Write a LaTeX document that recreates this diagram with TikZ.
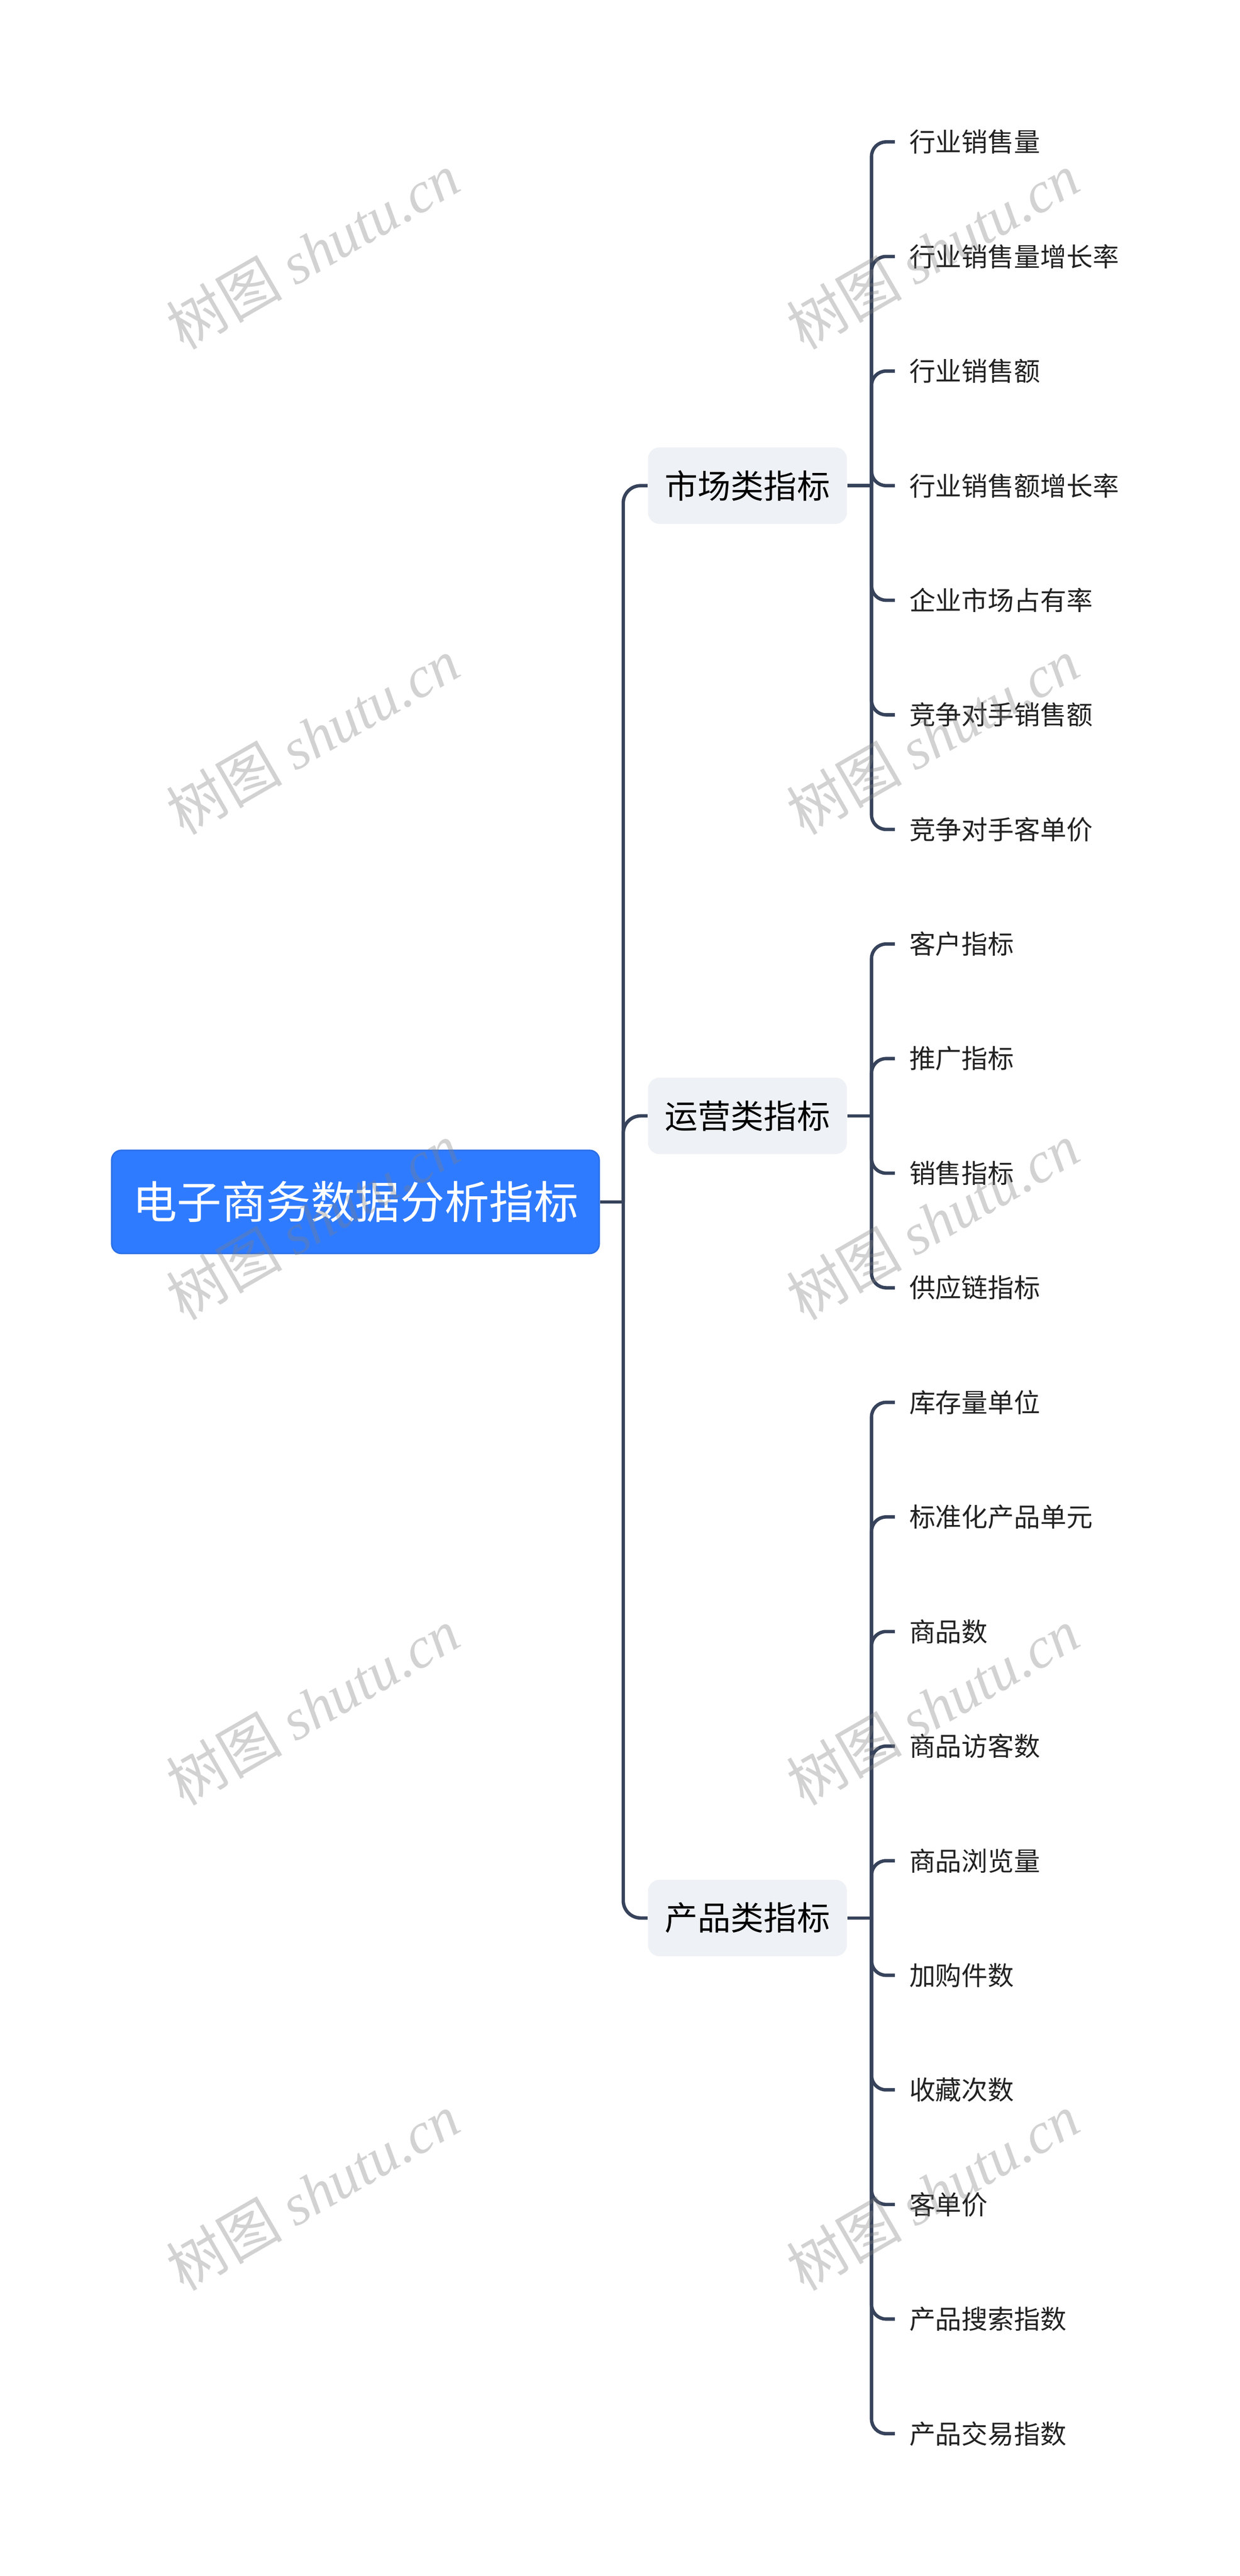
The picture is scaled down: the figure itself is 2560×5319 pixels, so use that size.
\documentclass[tikz,border=0pt]{standalone}
\usepackage{fontspec}
\setmainfont{Noto Sans CJK SC}
\newfontfamily\wmserif{Liberation Serif}
\usepackage{tikz}
\usetikzlibrary{positioning}

\definecolor{rootblue}{HTML}{2F7BFF}
\definecolor{rootedge}{HTML}{2A6FE6}
\definecolor{branchgray}{HTML}{EEF1F5}
\definecolor{linkslate}{HTML}{37435B}
\definecolor{leafink}{HTML}{222222}

\tikzset{
  rootbox/.style={draw=rootedge, line width=0.3mm, fill=rootblue, rounded corners=2mm,
    text=white, font=\fontsize{26.2pt}{30pt}\selectfont,
    inner xsep=4.3mm, inner ysep=0pt, minimum height=21.3mm},
  branchbox/.style={fill=branchgray, rounded corners=2.4mm, text=black,
    font=\fontsize{19.4pt}{23pt}\selectfont,
    inner xsep=3.5mm, inner ysep=0pt, minimum height=15.8mm},
  leaftext/.style={anchor=west, text=leafink, font=\fontsize{15.4pt}{18pt}\selectfont,
    inner xsep=2.9mm, inner ysep=0pt},
  link/.style={draw=linkslate, line width=0.7mm, rounded corners=3.6mm},
  leaflink/.style={link, rounded corners=3mm},
  wmtext/.style={text=gray, text opacity=0.35, rotate=30,
    font=\fontsize{34pt}{40pt}\selectfont}
}

\begin{document}
\begin{tikzpicture}[x=0.1mm, y=-0.1mm]
\fill[white] (0,0) rectangle (2560,5319);
\useasboundingbox (0,0) rectangle (2560,5319);

% root and the three groups
\node[rootbox] (ROOT) at (734,2481.7) {电子商务数据分析指标};
\node[branchbox] (MKT) at (1543.5,1002.8) {市场类指标};
\node[branchbox] (OPS) at (1543.5,2304.1) {运营类指标};
\node[branchbox] (PRD) at (1543.5,3960.3) {产品类指标};

% leaves
\foreach \t [count=\i from 0] in {行业销售量,行业销售量增长率,行业销售额,行业销售额增长率,
    企业市场占有率,竞争对手销售额,竞争对手客单价,客户指标,推广指标,销售指标,供应链指标,
    库存量单位,标准化产品单元,商品数,商品访客数,商品浏览量,加购件数,收藏次数,客单价,
    产品搜索指数,产品交易指数}
  \node[leaftext] (L\i) at (1848,{293+236.6*\i}) {\t};

% root to groups
\coordinate (HUB) at (1287,2481.7);
\draw[link] (ROOT.east) -- (HUB);
\foreach \b in {MKT,OPS,PRD}
  \draw[link] (HUB) |- (\b.west);

% groups to leaves
\coordinate[right=5mm of MKT] (MKT-HUB);
\coordinate[right=5mm of OPS] (OPS-HUB);
\coordinate[right=5mm of PRD] (PRD-HUB);
\foreach \b in {MKT,OPS,PRD}
  \draw[link] (\b.east) -- (\b-HUB);
\foreach \i in {0,...,6}
  \draw[leaflink] (MKT-HUB) |- (L\i.west);
\foreach \i in {7,...,10}
  \draw[leaflink] (OPS-HUB) |- (L\i.west);
\foreach \i in {11,...,20}
  \draw[leaflink] (PRD-HUB) |- (L\i.west);

% watermark
\foreach \wx in {646,1926}
  \foreach \wy in {518,1520,2522,3524,4526}
    \node[wmtext] (WM-\wx-\wy) at (\wx,\wy) {树图 {\wmserif\itshape shutu.cn}};
\end{tikzpicture}
\end{document}
